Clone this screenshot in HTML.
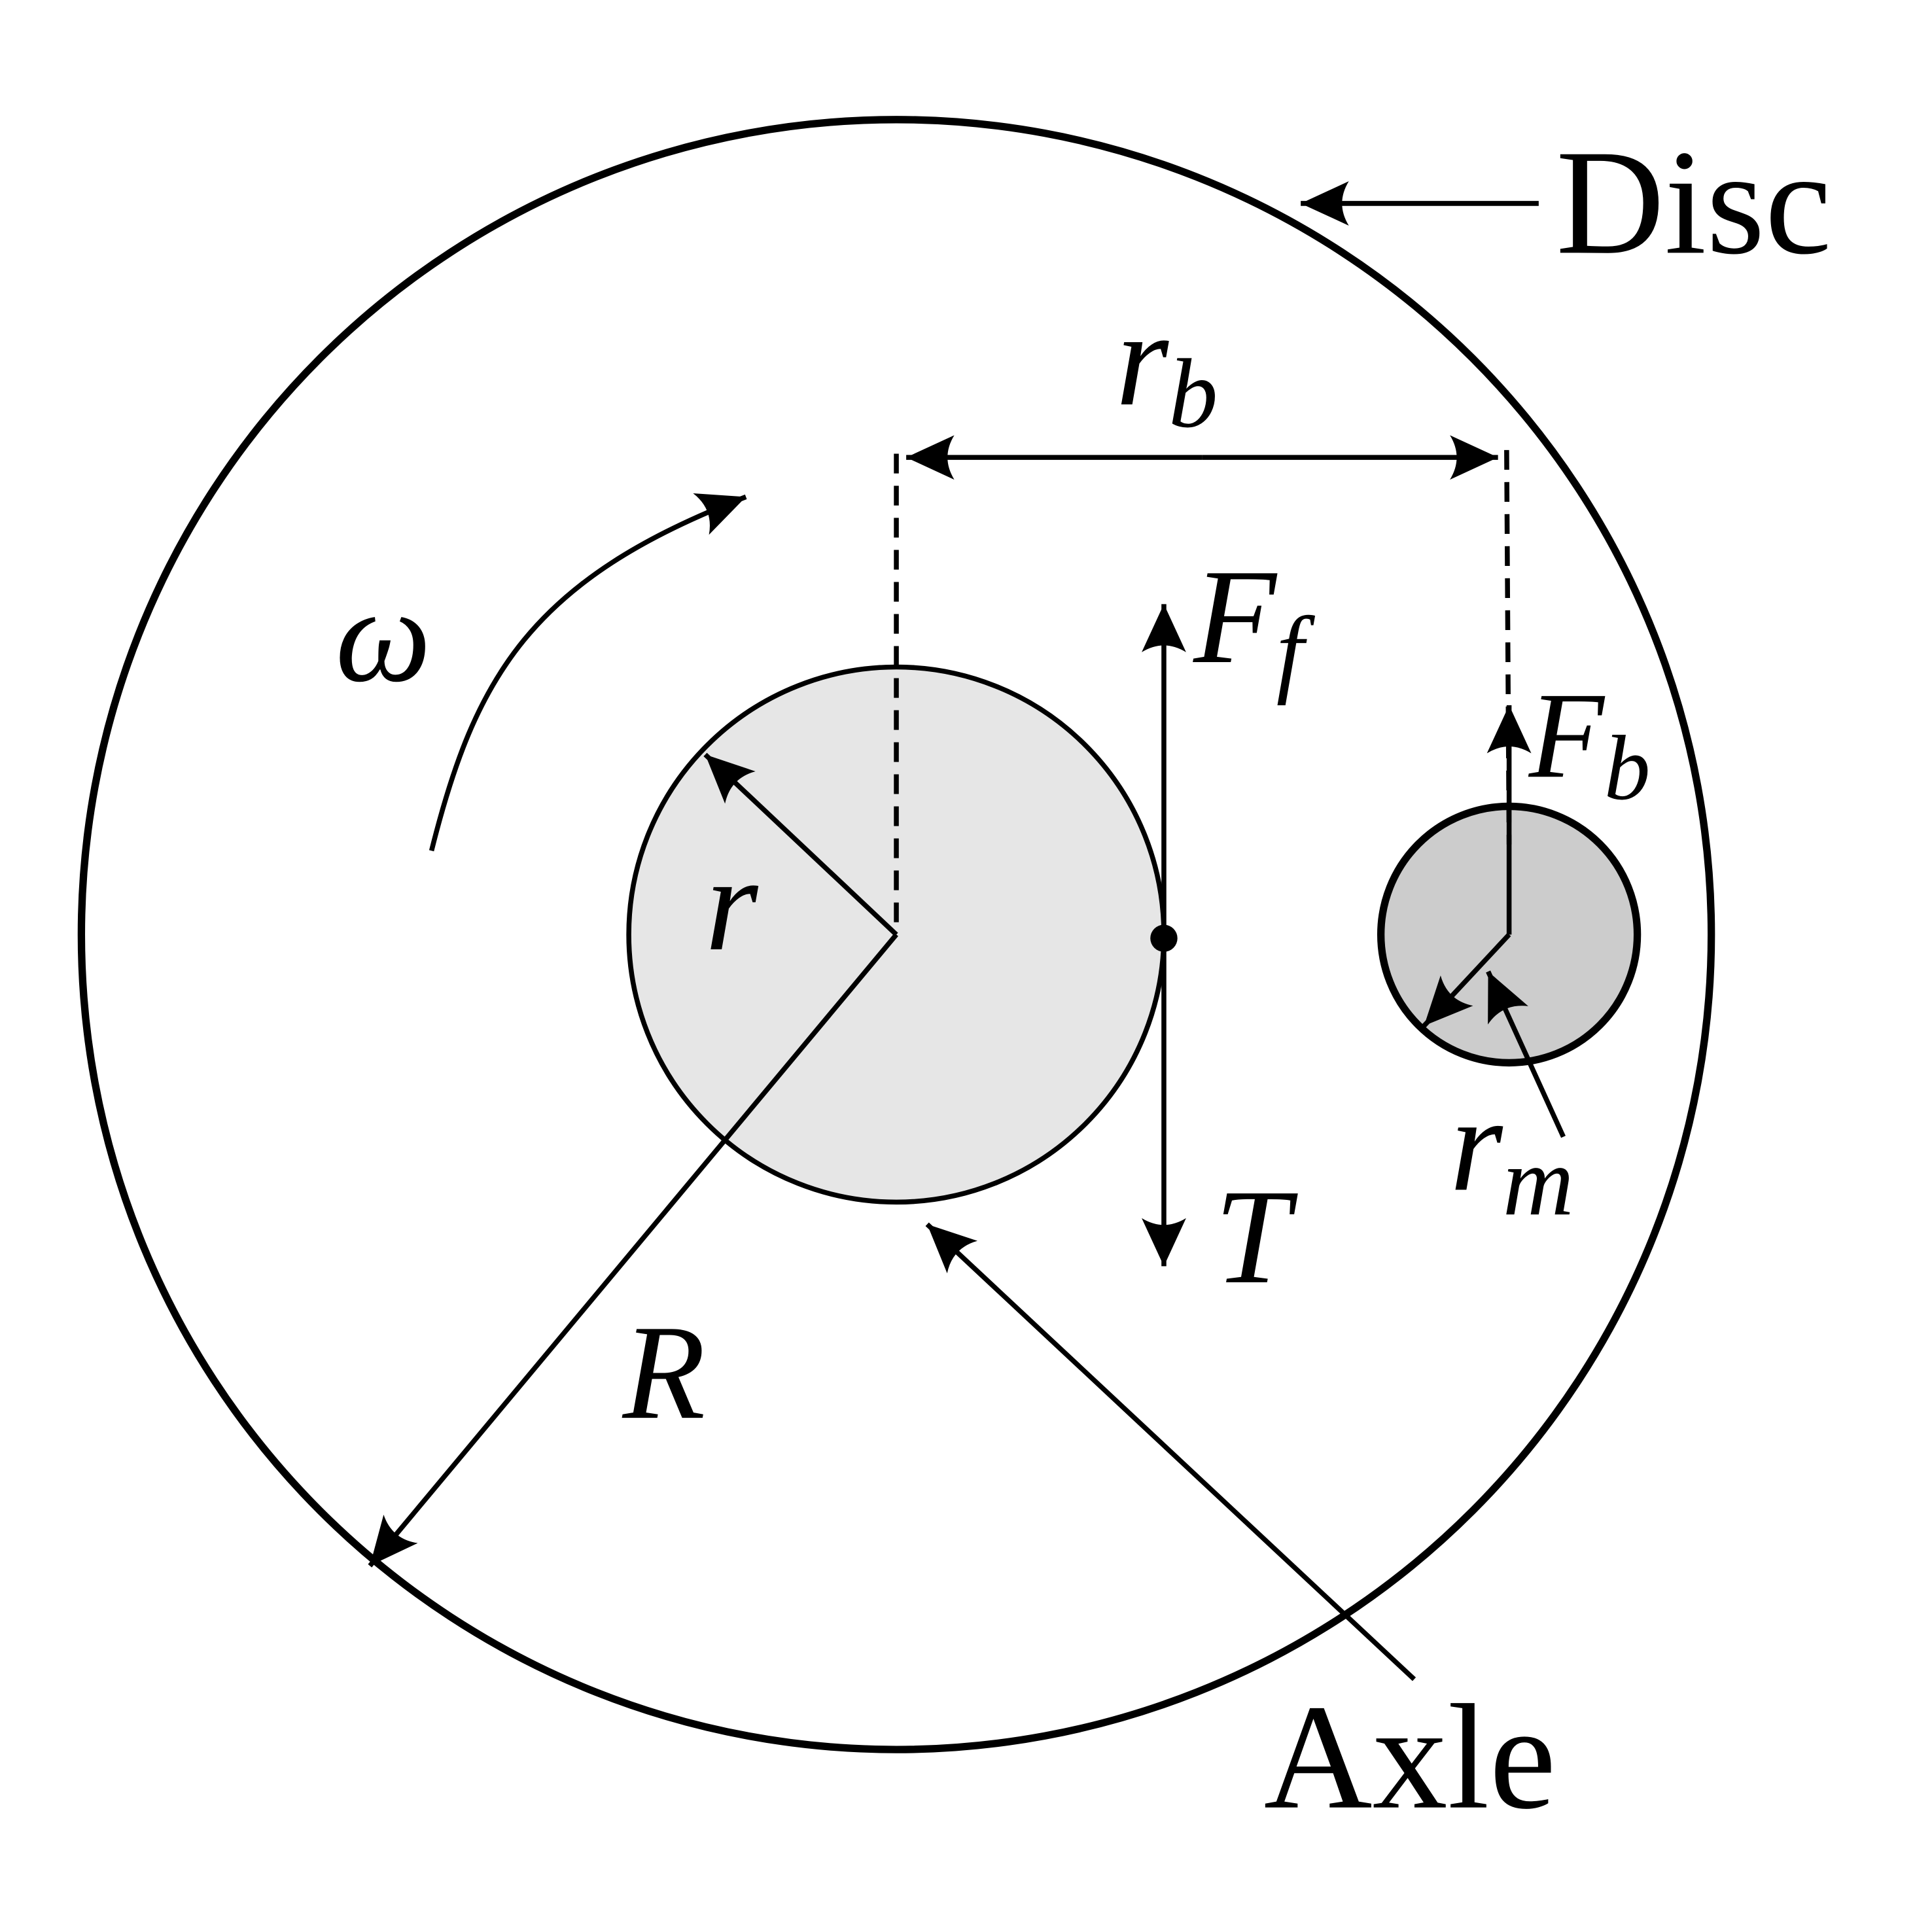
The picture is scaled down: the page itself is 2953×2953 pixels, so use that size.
<!DOCTYPE html>
<html><head><meta charset="utf-8"><style>
html,body{margin:0;padding:0;background:#fff;}
svg{display:block;}
text{font-family:"Liberation Serif",serif;fill:#000;}
.m{font-style:italic;}
</style></head><body>
<svg width="2953" height="2953" viewBox="0 0 1567 1567" xmlns="http://www.w3.org/2000/svg">
<defs>
<marker id="ah" viewBox="0 0 10 10" refX="9" refY="5" markerWidth="10" markerHeight="10" markerUnits="userSpaceOnUse" orient="auto" style="overflow:visible">
<path d="M-30,-13 L9,5 L-30,23 Q-19,5 -30,-13 Z" fill="#000"/>
</marker>
</defs>
<circle cx="727" cy="758" r="661" fill="none" stroke="#000" stroke-width="6"/>
<circle cx="727" cy="758" r="217" fill="#e6e6e6" stroke="#000" stroke-width="4"/>
<circle cx="1224" cy="758" r="104" fill="#cccccc" stroke="#000" stroke-width="6"/>
<line x1="727" y1="368" x2="727" y2="758" stroke="#000" stroke-width="4" stroke-dasharray="16,10"/>
<line x1="1222" y1="365" x2="1224" y2="685" stroke="#000" stroke-width="4" stroke-dasharray="16,10"/>
<g stroke="#000" stroke-width="4" fill="none">
<line x1="1248" y1="165" x2="1055" y2="165" marker-end="url(#ah)"/>
<line x1="975" y1="371" x2="735" y2="371" marker-end="url(#ah)"/>
<line x1="975" y1="371" x2="1215" y2="371" marker-end="url(#ah)"/>
<line x1="944" y1="758" x2="944" y2="490" marker-end="url(#ah)"/>
<line x1="944" y1="758" x2="944" y2="1027" marker-end="url(#ah)"/>
<line x1="1224" y1="758" x2="1224" y2="572" marker-end="url(#ah)"/>
<line x1="727" y1="758" x2="572" y2="612" marker-end="url(#ah)"/>
<line x1="727" y1="758" x2="300" y2="1270" marker-end="url(#ah)"/>
<line x1="1224" y1="758" x2="1155" y2="832" marker-end="url(#ah)"/>
<line x1="1268" y1="922" x2="1207" y2="788" marker-end="url(#ah)"/>
<line x1="1147" y1="1362" x2="752" y2="993" marker-end="url(#ah)"/>
<path d="M350,690 C385,550 430,470 605,403" marker-end="url(#ah)"/>
</g>
<circle cx="944" cy="761" r="11" fill="#000"/>
<text x="1262" y="205" font-size="122">Disc</text>
<text x="1025" y="1466" font-size="122">Axle</text>
<text class="m" x="905" y="328" font-size="110">r<tspan font-size="80" dy="18">b</tspan></text>
<text class="m" x="968" y="537" font-size="110">F<tspan font-size="80" dy="18">f</tspan></text>
<text class="m" x="1240" y="630" font-size="100">F<tspan font-size="75" dy="18">b</tspan></text>
<text class="m" x="985" y="1040" font-size="110">T</text>
<text class="m" x="572" y="770" font-size="110">r</text>
<text class="m" x="505" y="1150" font-size="110">R</text>
<text class="m" x="1176" y="965" font-size="110">r<tspan font-size="80" dy="20">m</tspan></text>
<text class="m" x="272" y="552" font-size="110">ω</text>
</svg>
</body></html>
